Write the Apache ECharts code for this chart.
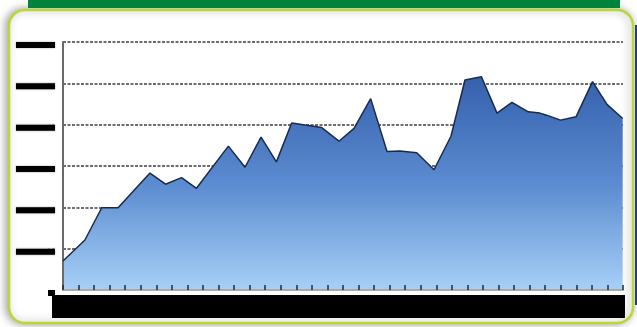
<!DOCTYPE html>
<html>
<head>
<meta charset="utf-8">
<script src="https://cdn.jsdelivr.net/npm/echarts@6/dist/echarts.min.js"></script>
<style>
html,body{margin:0;padding:0;background:#fff;}
#chart{width:637px;height:327px;}
</style>
</head>
<body>
<div id="chart"></div>
<script>
// x positions (in tick units) and values
var xs = [0, 1.41, 2.49, 3.54, 5.59, 6.59, 7.62, 8.58, 10.63, 11.70, 12.73, 13.72, 14.70, 15.56, 16.63, 17.74, 18.71, 19.78, 20.83, 21.66, 22.74, 23.85, 24.94, 25.84, 26.90, 27.90, 28.86, 29.91, 30.66, 31.09, 31.98, 32.98, 34.04, 34.97, 35.98];
var ys = [7.0, 12.1, 19.9, 19.9, 28.3, 25.6, 27.2, 24.6, 34.8, 29.7, 37.0, 31.0, 40.4, 39.9, 39.3, 36.0, 39.1, 46.3, 33.5, 33.6, 33.2, 29.1, 37.2, 50.8, 51.6, 42.8, 45.4, 43.1, 42.8, 42.3, 41.1, 41.9, 50.4, 44.9, 41.5];
var yTicks = [0, 10, 20, 30, 40, 50, 60];

var chart = echarts.init(document.getElementById('chart'), null, {renderer: 'canvas'});
chart.setOption({
  animation: false,
  backgroundColor: '#fff',
  grid: {left: 63, right: 14, top: 42, bottom: 37},
  graphic: [
    {type: 'rect', z: -10, shape: {x: 9, y: 10, width: 624, height: 313, r: 16},
     style: {fill: '#fff', stroke: '#bcd634', lineWidth: 2.5, shadowColor: 'rgba(0,0,0,0.35)', shadowBlur: 8, shadowOffsetX: -2}},
    {type: 'rect', z: -5, shape: {x: 28, y: 0, width: 592, height: 8}, style: {fill: '#00843d'}},
    {type: 'rect', z: -5, shape: {x: 635, y: 25, width: 2, height: 280}, style: {fill: '#1d3d8c'}},
    {type: 'rect', z: 100, shape: {x: 52, y: 295, width: 573, height: 23}, style: {fill: '#000'}},
    {type: 'rect', z: 100, shape: {x: 48, y: 290, width: 7, height: 6}, style: {fill: '#000'}}
  ],
  xAxis: {
    type: 'value', min: 0, max: 36, interval: 1, z: 3,
    axisLine: {show: true, onZero: false, lineStyle: {color: '#aaa', width: 2}},
    axisTick: {show: true, inside: true, length: 5, lineStyle: {color: '#1c2b45', width: 1.5}},
    axisLabel: {show: false},
    splitLine: {show: false}
  },
  yAxis: {
    type: 'value', min: yTicks[0], max: yTicks[yTicks.length - 1], interval: 10, z: 3,
    axisLine: {show: true, lineStyle: {color: '#6a6a6a', width: 2}},
    axisTick: {show: false},
    axisLabel: {
      show: true, showMinLabel: false, margin: 8,
      color: '#000', backgroundColor: '#000',
      fontSize: 6, lineHeight: 6, width: 39, height: 6, overflow: 'truncate',
      verticalAlign: 'top', fontFamily: 'DejaVu Sans',
      shadowColor: 'rgba(0,0,0,0.4)', shadowBlur: 2,
      formatter: function (v) { return String(v); }
    },
    splitLine: {show: true, lineStyle: {color: 'rgba(40,40,40,0.9)', width: 1.6, type: [3, 1.5]}}
  },
  series: [{
    type: 'line',
    data: xs.map(function (x, i) { return [x, ys[i]]; }),
    symbol: 'none',
    lineStyle: {color: '#1c2b45', width: 1.5},
    areaStyle: {
      opacity: 1,
      color: new echarts.graphic.LinearGradient(0, 0, 0, 1, [
        {offset: 0, color: '#3560ad'},
        {offset: 0.5, color: '#5b8bd0'},
        {offset: 1, color: '#a6d0f6'}
      ])
    }
  }]
});
</script>
</body>
</html>
